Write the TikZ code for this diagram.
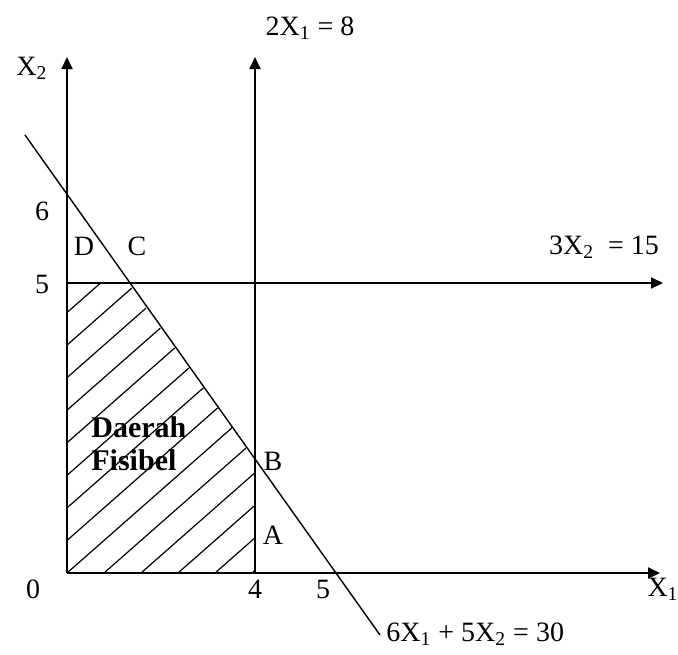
\documentclass[tikz,border=0pt]{standalone}
\usepackage{fontspec}
\setmainfont{Liberation Serif}
\usetikzlibrary{arrows.meta, positioning}
\tikzset{
    % Line styles
    axisarrow/.style={
        -{Triangle[length=6pt,width=5.5pt]},
        line width=1pt,
        black
    },
    boundline/.style={
        line width=0.7pt,
        black
    },
    hatchline/.style={
        line width=0.6pt,
        black
    },
    % Label styles
    lbl/.style={
        inner sep=0pt,
        font=\fontsize{14}{16}\selectfont
    },
    regionlbl/.style={
        inner sep=0pt,
        align=left,
        font=\fontsize{15}{16.5}\selectfont\bfseries
    }
}
\begin{document}
\begin{tikzpicture}[x=0.5pt, y=-0.5pt]
    \useasboundingbox (0,0) rectangle (678,654);
    % corner points of the feasible region
    \coordinate (O) at (67,573);
    \coordinate (D) at (67,283);
    \coordinate (C) at (128,283);
    \coordinate (B) at (255,460);
    \coordinate (A) at (255,573);
    % end points of axes and constraint lines
    \coordinate (ytop) at (67,57);
    \coordinate (xend) at (660,573);
    \coordinate (vtop) at (255,57);
    \coordinate (hend) at (663,283);
    \coordinate (lstart) at (25,135);
    \coordinate (lend) at (380,635);

    % hatching
    \begin{scope}
        \clip (O) -- (D) -- (C) -- (B) -- (A) -- cycle;
        \foreach \k in {-9,...,6}
            \draw[hatchline] (67+37*\k-400,925) -- ++(800,-704);
    \end{scope}

    \draw[axisarrow] (O) -- (ytop);
    \draw[axisarrow] (O) -- (xend);
    \draw[axisarrow] (A) -- (vtop);
    \draw[axisarrow] (D) -- (hend);
    \draw[boundline] (lstart) -- (lend);

    \node[lbl] (x2lbl) at (32,68) {X\textsubscript{2}};
    \node[lbl] (x1lbl) at (663,589) {X\textsubscript{1}};
    \node[lbl] (eqv) at (310,28) {2X\textsubscript{1} = 8};
    \node[lbl] (eqh) at (604,247) {3X\textsubscript{2}~ = 15};
    \node[lbl, anchor=west] (eql) at (386,634) {6X\textsubscript{1} + 5X\textsubscript{2} = 30};

    \node[lbl] (t6) at (42,211) {6};
    \node[lbl] (t5y) at (42,284) {5};
    \node[lbl] (t0) at (33,589) {0};
    \node[lbl] (t4) at (255,589) {4};
    \node[lbl] (t5x) at (323,589) {5};

    \node[lbl] (pD) at (84,246) {D};
    \node[lbl] (pC) at (137,246) {C};
    \node[lbl] (pB) at (273,461) {B};
    \node[lbl] (pA) at (273,535) {A};

    \node[regionlbl, anchor=west] (region) at (91,444) {Daerah\\Fisibel};
\end{tikzpicture}
\end{document}
